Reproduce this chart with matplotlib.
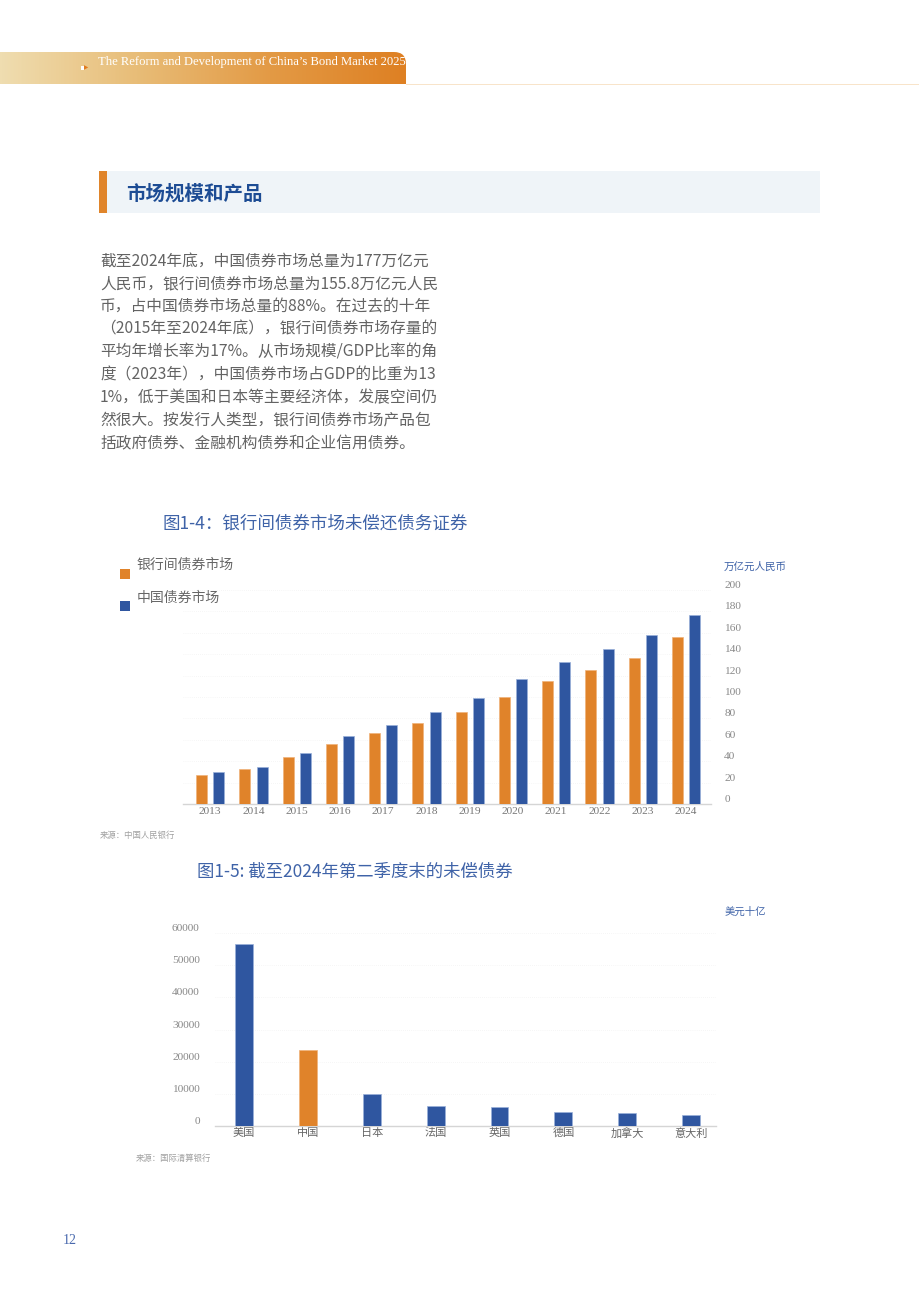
import matplotlib
matplotlib.use("Agg")
import matplotlib.pyplot as plt
import numpy as np
from matplotlib.patches import Rectangle
from matplotlib.path import Path
from matplotlib.colors import LinearSegmentedColormap

plt.rcParams['font.family'] = ['Noto Sans CJK SC', 'DejaVu Sans']

# ---------------- data ----------------
years = ['2013', '2014', '2015', '2016', '2017', '2018',
         '2019', '2020', '2021', '2022', '2023', '2024']
interbank = [27.3, 32.9, 43.6, 55.8, 65.9, 75.3, 86.3, 100.4, 114.5, 125.2, 136.8, 155.8]
china_total = [29.5, 34.8, 48.0, 64.0, 73.7, 86.3, 99.4, 117.0, 133.0, 144.9, 158.1, 177.0]
y1_ticks = [0, 20, 40, 60, 80, 100, 120, 140, 160, 180, 200]

countries = ['美国', '中国', '日本', '法国', '英国', '德国', '加拿大', '意大利']
outstanding = [56500, 23500, 10050, 6100, 5800, 4350, 4050, 3500]
y2_ticks = [0, 10000, 20000, 30000, 40000, 50000, 60000]

paragraph = [
    '截至2024年底，中国债券市场总量为177万亿元',
    '人民币，银行间债券市场总量为155.8万亿元人民',
    '币，占中国债券市场总量的88%。在过去的十年',
    '（2015年至2024年底），银行间债券市场存量的',
    '平均年增长率为17%。从市场规模/GDP比率的角',
    '度（2023年），中国债券市场占GDP的比重为13',
    '1%，低于美国和日本等主要经济体，发展空间仍',
    '然很大。按发行人类型，银行间债券市场产品包',
    '括政府债券、金融机构债券和企业信用债券。',
]

ORANGE = '#E0832A'
BLUE = '#2F56A0'
TITLE_BLUE = '#3F63A8'
SERIF = ['Liberation Serif', 'DejaVu Serif']
GRID = '#EEEEEE'

W, H = 920, 1293
fig = plt.figure(figsize=(W / 100, H / 100), dpi=100)


def fx(x):
    return x / W


def fy(y):
    return 1 - y / H


def rect(l, t, r, b):
    return [l / W, 1 - b / H, (r - l) / W, (b - t) / H]


# ---------------- header band ----------------
hax = fig.add_axes(rect(0, 52, 406, 84))
hax.set_xlim(0, 406)
hax.set_ylim(0, 32)
hax.axis('off')
cmap = LinearSegmentedColormap.from_list('hdr', ['#EFDDB0', '#E8BD78', '#E39A45', '#DE8023'])
grad = np.linspace(0, 1, 400).reshape(1, -1)
im = hax.imshow(grad, cmap=cmap, extent=[0, 406, 0, 32], aspect='auto')
r = 12
verts = [(0, 0), (406, 0), (406, 32 - r), (406, 32), (406 - r, 32), (0, 32), (0, 0)]
codes = [Path.MOVETO, Path.LINETO, Path.LINETO, Path.CURVE3, Path.CURVE3, Path.LINETO, Path.CLOSEPOLY]
clip = matplotlib.patches.PathPatch(Path(verts, codes), transform=hax.transData, facecolor='none', edgecolor='none')
hax.add_patch(clip)
im.set_clip_path(clip)
fig.add_artist(Rectangle((fx(406), fy(85)), (W - 406) / W, 1.2 / H, transform=fig.transFigure,
                         facecolor='#F8E4CA', edgecolor='none'))
fig.add_artist(Rectangle((fx(81), fy(70)), 3 / W, 4 / H, transform=fig.transFigure,
                         facecolor='white', edgecolor='none'))
fig.text(fx(86.5), fy(68), '▶', color='#E07A1E', fontsize=4, ha='center', va='center', family=['DejaVu Sans'])
fig.text(fx(98), fy(62), 'The Reform and Development of China’s Bond Market 2025',
         color='white', fontsize=9.1, family=SERIF, ha='left', va='center')

# ---------------- section heading ----------------
fig.add_artist(Rectangle((fx(99), fy(213)), (820 - 99) / W, 42 / H, transform=fig.transFigure,
                         facecolor='#EFF4F8', edgecolor='none'))
fig.add_artist(Rectangle((fx(99), fy(213)), 8 / W, 42 / H, transform=fig.transFigure,
                         facecolor='#E0852B', edgecolor='none'))
fig.text(fx(126), fy(194), '市场规模和产品', color='#1D4C94', fontsize=14, fontweight='bold',
         ha='left', va='center')

# ---------------- paragraph ----------------
for i, line in enumerate(paragraph):
    fig.text(fx(100), fy(261 + i * 22.8), line, color='#636363', fontsize=11.3, ha='left', va='center')

# ---------------- chart 1 ----------------
fig.text(fx(163), fy(524), '图1-4：银行间债券市场未偿还债务证券', color=TITLE_BLUE, fontsize=12.6,
         ha='left', va='center')

ax1 = fig.add_axes(rect(183, 590, 711, 804))
x = np.arange(len(years))
bw = 0.255
ax1.bar(x - 0.2, interbank, width=bw, color=ORANGE, edgecolor='#F0B27A', linewidth=0.5, zorder=3)
ax1.bar(x + 0.2, china_total, width=bw, color=BLUE, edgecolor='#9AB0DA', linewidth=0.5, zorder=3)
ax1.set_xlim(-0.63, 11.58)
ax1.set_ylim(0, 200)
ax1.set_xticks(x)
ax1.set_xticklabels(years, family=SERIF, fontsize=8.2, color='#777777')
ax1.yaxis.tick_right()
ax1.set_yticks(y1_ticks)
ax1.set_yticklabels([str(v) for v in y1_ticks], family=SERIF, fontsize=8.2, color='#888888', va='bottom')
ax1.tick_params(axis='both', length=0)
ax1.tick_params(axis='x', pad=2.5)
ax1.tick_params(axis='y', pad=9.5)
for s in ['top', 'left', 'right']:
    ax1.spines[s].set_visible(False)
ax1.spines['bottom'].set_color('#D5D5D5')
ax1.spines['bottom'].set_linewidth(1)
ax1.grid(axis='y', color=GRID, linestyle=(0, (1, 2)), linewidth=0.5, zorder=0)
ax1.set_axisbelow(True)

fig.text(fx(724), fy(567), '万亿元人民币', color=TITLE_BLUE, fontsize=7.6, ha='left', va='center')

# legend
fig.add_artist(Rectangle((fx(120), fy(579)), 10 / W, 10 / H, transform=fig.transFigure,
                         facecolor=ORANGE, edgecolor='none'))
fig.text(fx(137), fy(565), '银行间债券市场', color='#666666', fontsize=10, ha='left', va='center')
fig.add_artist(Rectangle((fx(120), fy(611)), 10 / W, 10 / H, transform=fig.transFigure,
                         facecolor=BLUE, edgecolor='none'))
fig.text(fx(137), fy(598), '中国债券市场', color='#666666', fontsize=10, ha='left', va='center')

fig.text(fx(100), fy(835), '来源：中国人民银行', color='#A0A0A0', fontsize=6, ha='left', va='center')

# ---------------- chart 2 ----------------
fig.text(fx(197), fy(872), '图1-5: 截至2024年第二季度末的未偿债券', color=TITLE_BLUE, fontsize=12.5,
         ha='left', va='center')

ax2 = fig.add_axes(rect(215, 933, 716, 1126))
x2 = np.arange(len(countries))
colors2 = [ORANGE if c == '中国' else BLUE for c in countries]
edges2 = ['#F0B27A' if c == '中国' else '#9AB0DA' for c in countries]
ax2.bar(x2, outstanding, width=0.28, color=colors2, edgecolor=edges2, linewidth=0.5, zorder=3)
ax2.set_xlim(-0.454, 7.39)
ax2.set_ylim(0, 60000)
ax2.set_xticks(x2)
ax2.set_xticklabels(countries, fontsize=8, color='#666666')
ax2.set_yticks(y2_ticks)
ax2.set_yticklabels([str(v) for v in y2_ticks], family=SERIF, fontsize=8.2, color='#888888', va='bottom')
ax2.tick_params(axis='both', length=0)
ax2.tick_params(axis='x', pad=1.5)
ax2.tick_params(axis='y', pad=11)
for s in ['top', 'left', 'right']:
    ax2.spines[s].set_visible(False)
ax2.spines['bottom'].set_color('#D5D5D5')
ax2.spines['bottom'].set_linewidth(1)
ax2.grid(axis='y', color=GRID, linestyle=(0, (1, 2)), linewidth=0.5, zorder=0)
ax2.set_axisbelow(True)

fig.text(fx(725), fy(912), '美元十亿', color=TITLE_BLUE, fontsize=7.5, ha='left', va='center')
fig.text(fx(136), fy(1158), '来源：国际清算银行', color='#A0A0A0', fontsize=6, ha='left', va='center')

# ---------------- page number ----------------
fig.text(fx(63), fy(1241), '12', color='#4A6AAE', fontsize=10, family=SERIF, ha='left', va='center')

fig.savefig('out.png', dpi=100)
